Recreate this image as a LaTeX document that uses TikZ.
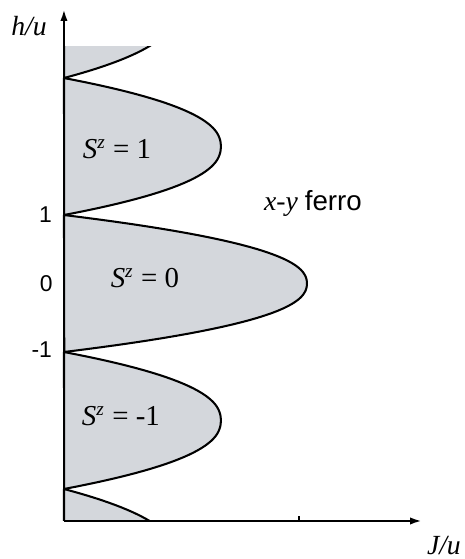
\documentclass[tikz,border=0pt]{standalone}
\usepackage{fontspec}
\setmainfont{Liberation Serif}
\setsansfont{Liberation Sans}
\usetikzlibrary{arrows.meta}
\definecolor{lobegray}{RGB}{212,215,220}
% one Mott lobe: centre h, width
\newcommand{\mottlobe}[2]{%
  \filldraw[lobe] (0,#1+1) plot[domain=1:-1, samples=61] ({#2*(1-abs(\x)^2.3)}, {#1+\x}) -- cycle;}
\newcommand{\Sz}[1]{\textit{S}\textsuperscript{\textit{z}} = #1}

\begin{document}
\begin{tikzpicture}[scale=1,
    lobe/.style={fill=lobegray, draw=black, line width=0.85pt, line join=round},
    axis/.style={line width=1pt, -{Latex[length=5pt,width=3pt]}},
    lab/.style={font=\fontsize{11.5}{13}\selectfont\itshape},
    slab/.style={font=\fontsize{12}{14}\selectfont},
    num/.style={font=\fontsize{9.5}{11}\sffamily, anchor=east, inner sep=0pt}]
    \useasboundingbox (-0.934,-4.022) rectangle (5.854,4.139);
    \coordinate (O) at (0,-3.467);
    \coordinate (htip) at (0,4.01);
    \coordinate (Jtip) at (5.23,-3.467);
    % lobes
    \mottlobe{0}{3.547}
    \mottlobe{2}{2.29}
    \mottlobe{-2}{2.29}
    \begin{scope}
        \clip (-0.1,-3.467) rectangle (3,3.453);
        \mottlobe{4}{1.635}
        \mottlobe{-4}{1.635}
    \end{scope}
    % axes
    \draw[axis] (O) -- (htip);
    \draw[axis] (O) -- (Jtip);
    \draw[line width=0.5pt] (3.43,-3.467) -- (3.43,-3.39);
    \node[lab] (hu) at (-0.511,3.759) {h/u};
    \node[lab] (Ju) at (5.547,-3.832) {J/u};
    \node[num] (hp) at (-0.17,1.0) {1};
    \node[num] (hz) at (-0.16,0.0) {0};
    \node[num] (hm) at (-0.17,-0.97) {-1};
    \node[slab] (S1) at (0.774,1.964) {\Sz{1}};
    \node[slab] (S0) at (1.182,0.08) {\Sz{0}};
    \node[slab] (Sm) at (0.832,-1.934) {\Sz{-1}};
    \node (xy) at (3.635,1.175) {\fontsize{11.5}{13}\selectfont\textit{x}-\textit{y} \sffamily ferro};
\end{tikzpicture}
\end{document}
